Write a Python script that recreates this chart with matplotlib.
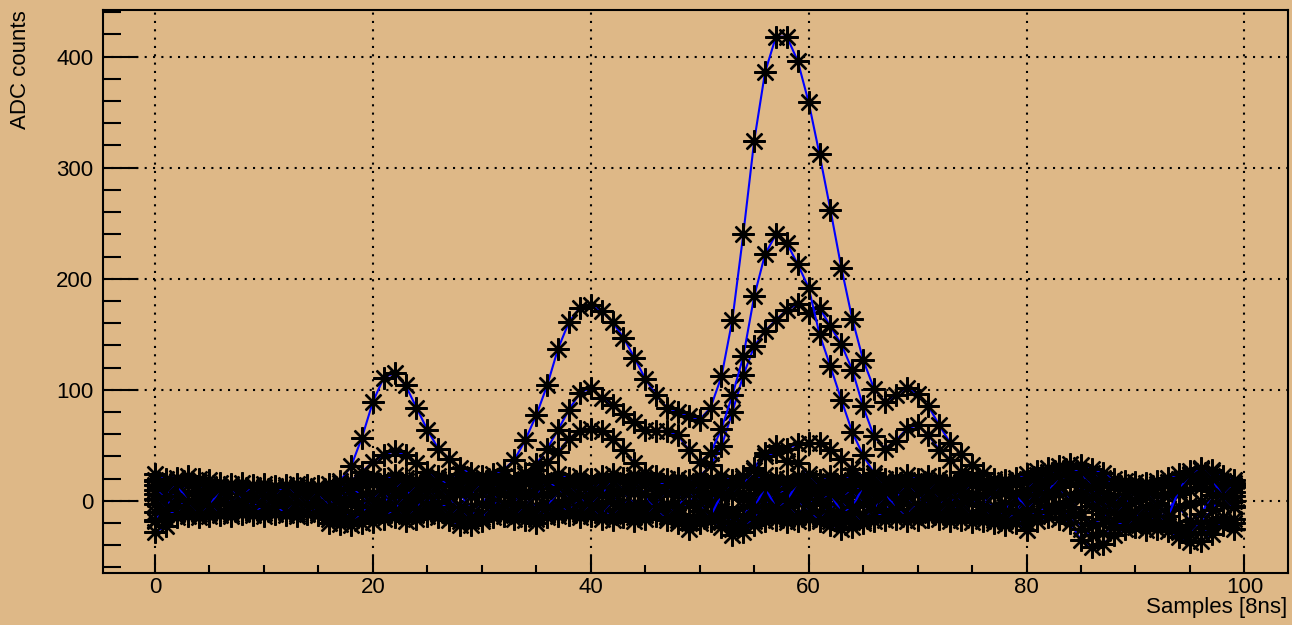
import numpy as np
import matplotlib
matplotlib.use("Agg")
import matplotlib.pyplot as plt
from matplotlib.ticker import MultipleLocator

plt.rcParams['font.family'] = ['Liberation Sans', 'DejaVu Sans']

# ---- data ----
samples = np.arange(100)

# baseline / noise traces, one value per sample
noise_top = [24, 20, 21, 22, 20, 19, 16, 15, 16, 14,
             15, 13, 14, 15, 14, 13, 15, 16, 18, 20,
             22, 20, 23, 21, 19, 20, 22, 21, 24, 20,
             19, 21, 22, 20, 23, 22, 20, 24, 21, 22,
             20, 22, 24, 21, 23, 25, 22, 20, 21, 19,
             18, 20, 22, 19, 21, 20, 23, 21, 20, 22,
             21, 19, 22, 20, 23, 21, 22, 20, 21, 23,
             20, 22, 21, 19, 20, 22, 18, 20, 19, 21,
             24, 27, 30, 31, 33, 32, 29, 25, 20, 18,
             17, 16, 18, 21, 24, 27, 29, 28, 22, 19]
noise_hi = [14, 16, 12, 15, 13, 11, 9, 10, 8, 9,
            10, 7, 9, 8, 10, 9, 8, 10, 12, 14,
            15, 13, 16, 14, 12, 15, 13, 16, 14, 12,
            13, 15, 14, 12, 16, 14, 13, 15, 17, 14,
            15, 13, 16, 18, 15, 14, 16, 13, 12, 14,
            12, 14, 11, 13, 15, 12, 14, 13, 15, 12,
            14, 13, 15, 12, 14, 16, 13, 15, 14, 12,
            13, 15, 14, 12, 13, 15, 12, 14, 13, 15,
            17, 20, 23, 24, 25, 22, 20, 16, 12, 10,
            9, 10, 12, 14, 17, 20, 18, 16, 14, 12]
noise_mid = [6, 8, 4, 7, 5, 3, 4, 2, 3, 5,
             3, 2, 4, 1, 3, 2, 4, 3, 5, 6,
             7, 5, 8, 6, 4, 7, 5, 8, 6, 4,
             6, 5, 7, 4, 6, 8, 5, 7, 6, 4,
             6, 8, 5, 7, 9, 6, 4, 7, 5, 6,
             4, 6, 3, 5, 7, 4, 6, 5, 3, 6,
             5, 7, 4, 6, 5, 3, 6, 4, 7, 5,
             6, 4, 7, 5, 3, 6, 4, 5, 7, 4,
             8, 11, 14, 15, 16, 13, 10, 7, 4, 2,
             1, 3, 5, 4, 7, 10, 12, 9, 6, 4]
noise_zero = [-3, -1, -4, -2, 0, -3, -2, -4, -1, -3,
              -2, -4, -3, -1, -3, -2, -4, -5, -3, -2,
              -1, -3, 0, -2, -4, -1, -3, -2, -4, -5,
              -3, -1, -2, -4, -3, -5, -2, -1, -3, -2,
              0, -2, -1, -3, -2, -4, -1, -3, -2, -4,
              -5, -3, -6, -8, -6, -4, -2, -3, -1, -2,
              -3, -1, -4, -5, -3, -2, -4, -1, -3, -2,
              -4, -2, -3, -1, -4, -2, -3, -5, -4, -2,
              -1, 2, 4, 6, 5, 2, -1, -4, -7, -9,
              -10, -8, -9, -7, -6, -3, 0, -2, -4, -5]
noise_lo = [-10, -12, -8, -9, -7, -8, -9, -7, -8, -10,
            -8, -9, -7, -10, -8, -9, -12, -13, -11, -9,
            -8, -10, -7, -9, -11, -8, -10, -9, -13, -14,
            -11, -9, -8, -10, -9, -12, -10, -8, -9, -7,
            -8, -10, -9, -11, -12, -10, -8, -11, -13, -15,
            -13, -11, -14, -18, -16, -13, -11, -10, -12, -11,
            -9, -11, -13, -15, -14, -12, -10, -9, -11, -10,
            -9, -11, -10, -12, -9, -11, -12, -13, -14, -12,
            -14, -9, -5, -3, -6, -15, -22, -20, -17, -18,
            -19, -17, -18, -20, -22, -24, -20, -17, -15, -16]
noise_bot = [-28, -23, -15, -14, -15, -14, -13, -14, -12, -13,
             -14, -12, -13, -14, -12, -13, -20, -21, -22, -20,
             -19, -16, -15, -18, -16, -14, -15, -17, -22, -22,
             -18, -15, -14, -16, -17, -20, -15, -14, -13, -15,
             -14, -16, -17, -15, -18, -16, -14, -17, -20, -25,
             -20, -18, -24, -31, -28, -22, -18, -17, -19, -18,
             -16, -18, -22, -25, -24, -20, -18, -17, -16, -18,
             -17, -15, -16, -18, -17, -19, -18, -20, -22, -20,
             -26, -18, -15, -16, -20, -35, -42, -39, -31, -25,
             -24, -26, -25, -27, -33, -37, -36, -30, -22, -25]
noise_wave1 = [18, 10, 0, -6, 2, 12, 6, -2, -6, 0,
               8, 10, 2, -5, -8, 0, 6, 9, 3, -4,
               -10, -3, 10, 18, 11, 2, -6, -2, 9, 17,
               10, 0, -7, -3, 8, 14, 6, -4, -9, 1,
               11, 17, 9, -1, -8, -2, 10, 18, 8, -3,
               -9, 0, 12, 5, -6, -10, 1, 11, 16, 7,
               -2, -10, -5, 6, 14, 9, 0, -8, -3, 8,
               15, 10, 1, -7, -4, 6, 13, 8, -2, -9,
               2, 14, 24, 28, 20, 8, -5, -12, -3, 6,
               0, -12, -18, -8, 6, 18, 28, 26, 12, 0]
noise_wave2 = [-18, -6, 8, 14, 6, -4, -10, -3, 7, 12,
               4, -6, -10, -2, 8, 11, 2, -8, -14, -6,
               6, 14, 5, -6, -12, -3, 9, 16, 7, -8,
               -16, -6, 6, 13, 4, -7, -13, -4, 8, 12,
               3, -8, -14, -5, 7, 15, 5, -6, -12, -2,
               9, 4, -8, -20, -14, 0, 8, 3, -6, -12,
               -4, 8, 12, 2, -12, -18, -8, 5, 12, 4,
               -6, -13, -5, 7, 12, 3, -8, -15, -9, 3,
               10, 18, 20, 12, 0, -10, -20, -16, -8, -14,
               -20, -13, -2, 6, -6, -18, -12, 5, 16, 8]
noise_wave3 = [2, -8, -12, -4, 9, 15, 8, -3, -11, -7,
               4, 12, 9, -1, -10, -6, 3, -10, -17, -12,
               1, 9, -4, -13, -7, 5, 14, 4, -9, -15,
               -3, 10, 16, 6, -8, -15, -6, 9, 15, 5,
               -7, -13, -2, 11, 17, 6, -9, -15, -6, 8,
               14, 7, -6, -13, -22, -16, -5, 6, 11, 2,
               -11, -16, -9, 4, 10, -3, -14, -10, 2, 13,
               7, -5, -12, -3, 9, 14, 5, -8, -16, -11,
               -2, 6, 12, 19, 24, 16, 3, -8, -18, -22,
               -16, -6, -14, -20, -28, -30, -20, -8, 4, -6]
noise_wave4 = [10, 4, 15, 0, -10, -5, 11, 12, 0, -9,
               -5, 3, 12, 6, -3, 8, -6, 2, 11, 6,
               -6, -13, -8, 3, 16, 9, -2, -12, -6, 4,
               15, 8, -4, -12, -6, 4, 17, 12, 1, -10,
               -4, 5, 18, 9, -4, -11, -5, 7, 16, 10,
               -2, -14, 6, 9, 2, -6, 12, -6, 0, 17,
               10, 2, 6, -10, -6, 13, 15, 8, -7, -13,
               -3, 8, 17, 10, -2, -12, -5, 6, 14, 7,
               -8, 0, 8, 22, 30, 26, 12, 2, -10, -4,
               8, 6, -4, -14, 10, 24, 30, 20, 4, 14]
noise_up2 = [19, 17, 18, 16, 17, 14, 12, 13, 11, 12,
             12, 11, 10, 12, 11, 12, 10, 13, 15, 17,
             18, 17, 19, 18, 16, 17, 18, 19, 17, 16,
             17, 18, 16, 17, 19, 18, 17, 19, 18, 17,
             18, 17, 19, 20, 18, 19, 18, 17, 16, 17,
             15, 17, 16, 16, 18, 17, 18, 16, 18, 17,
             18, 16, 18, 17, 19, 18, 17, 18, 17, 19,
             17, 18, 17, 16, 17, 18, 16, 17, 16, 18,
             20, 23, 26, 28, 29, 27, 25, 21, 16, 14,
             13, 13, 15, 17, 20, 23, 24, 22, 18, 16]
noise_dn2 = [-17, -16, -12, -11, -12, -11, -11, -12, -10, -11,
             -11, -10, -10, -12, -10, -11, -16, -17, -17, -15,
             -14, -13, -11, -14, -13, -11, -12, -13, -18, -18,
             -15, -12, -11, -13, -13, -16, -12, -11, -11, -12,
             -11, -13, -13, -12, -15, -13, -11, -14, -17, -20,
             -17, -15, -19, -25, -22, -18, -15, -14, -16, -15,
             -13, -15, -18, -20, -19, -16, -14, -13, -13, -14,
             -13, -13, -13, -15, -13, -15, -15, -17, -18, -16,
             -20, -14, -10, -9, -13, -25, -31, -29, -24, -21,
             -21, -21, -21, -23, -27, -30, -28, -24, -19, -20]

# pulse traces: first sample index and values
pulse_a_start = 17
pulse_a = [18, 31, 57, 89, 111, 115, 104, 84, 64, 47,
           38, 30, 25, 22, 24, 28, 37, 55, 77, 104,
           137, 161, 174, 176, 171, 161, 147, 129, 110, 95,
           84, 80, 76, 73, 84, 112, 163, 240, 324, 386,
           418, 418, 396, 359, 312, 262, 210, 164, 127, 101,
           89, 95, 102, 96, 85, 68, 52, 42, 32, 25, 18]
pulse_b_start = 33
pulse_b = [18, 25, 33, 47, 64, 82, 97, 102, 93, 86,
           78, 71, 64, 63, 63, 59, 46, 35, 43, 65,
           95, 130, 184, 222, 240, 232, 213, 192, 150, 121,
           91, 62, 41, 25, 15]
pulse_c_start = 33
pulse_c = [12, 20, 28, 35, 44, 56, 63, 65, 63, 56,
           46, 34, 25, 18, 14, 12, 15, 22, 32, 49,
           80, 113, 139, 153, 163, 172, 177, 169, 174, 157,
           141, 118, 85, 58, 47, 54, 65, 68, 59, 46,
           37, 26, 18]
pulse_d_start = 17
pulse_d = [10, 18, 26, 35, 41, 45, 41, 34, 26, 20, 15, 12]
pulse_e_start = 52
pulse_e = [8, 14, 22, 30, 43, 49, 47, 51, 52, 52, 46, 38, 29, 20, 12]
pulse_f_start = 53
pulse_f = [5, 14, 28, 40, 44, 36, 34, 24, 14]

noise_traces = [noise_bot, noise_dn2, noise_lo, noise_zero, noise_mid,
                noise_hi, noise_up2, noise_top, noise_wave1, noise_wave2,
                noise_wave3, noise_wave4]
pulse_traces = [(pulse_d_start, pulse_d), (pulse_e_start, pulse_e),
                (pulse_f_start, pulse_f), (pulse_c_start, pulse_c),
                (pulse_b_start, pulse_b), (pulse_a_start, pulse_a)]

# ---- plot ----
bg = '#deb887'
fig = plt.figure(figsize=(12.92, 6.25), dpi=100, facecolor=bg)
ax = fig.add_axes([103 / 1292, 52 / 625, 1185 / 1292, 563 / 625])
ax.set_facecolor(bg)

star = (8, 2, 0)  # asterisk like ROOT marker 3
style = dict(color='blue', lw=1.5, marker=star, ms=16, mec='black',
             mew=1.7, mfc='none')

for tr in noise_traces:
    ax.plot(samples, tr, **style)

for start, vals in pulse_traces:
    xs = np.arange(start, start + len(vals))
    ax.plot(xs, vals, **style)

ax.set_xlim(-4.77, 104.0)
ax.set_ylim(-65, 442)

ax.xaxis.set_major_locator(MultipleLocator(20))
ax.xaxis.set_minor_locator(MultipleLocator(5))
ax.yaxis.set_major_locator(MultipleLocator(100))
ax.yaxis.set_minor_locator(MultipleLocator(20))

ax.grid(True, which='major', color='black', lw=1.5, linestyle=(0, (1, 3)))
ax.set_axisbelow(True)

ax.tick_params(axis='both', which='both', direction='in', width=1.5,
               top=False, right=False, labelsize=16, color='black')
ax.tick_params(axis='y', which='major', length=25, pad=7)
ax.tick_params(axis='y', which='minor', length=13)
ax.tick_params(axis='x', which='major', length=13, pad=3)
ax.tick_params(axis='x', which='minor', length=6)

for sp in ax.spines.values():
    sp.set_linewidth(1.5)

fig.text(1287 / 1292, 1 - 608 / 625, 'Samples [8ns]', ha='right', va='center',
         fontsize=16)
fig.text(21 / 1292, 1 - 10 / 625, 'ADC counts', rotation=90, ha='center',
         va='top', fontsize=16)

plt.savefig('out.png', dpi=100, facecolor=bg)
